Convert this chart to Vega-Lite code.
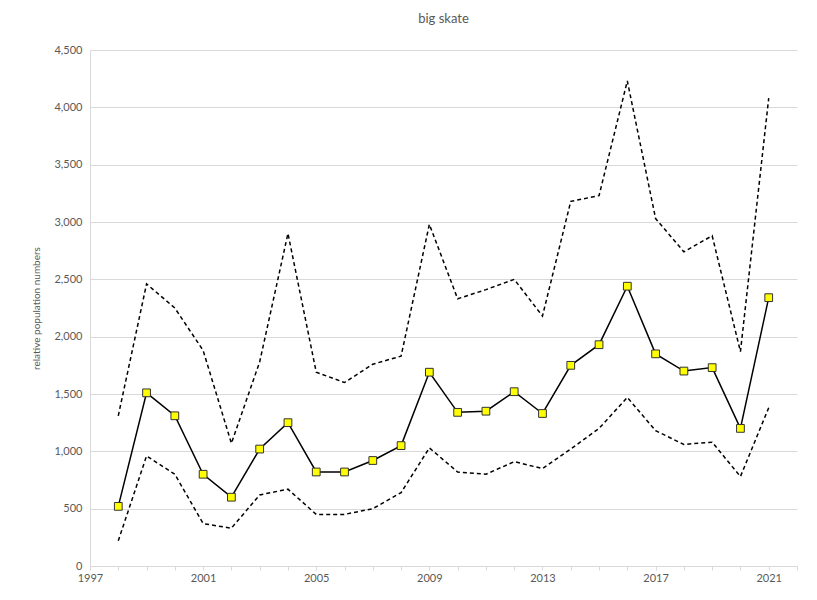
{
  "$schema": "https://vega.github.io/schema/vega-lite/v6.json",
  "autosize": "none",
  "width": 707,
  "height": 516,
  "padding": {"left": 90, "top": 50, "right": 20, "bottom": 34},
  "background": "white",
  "title": {
    "text": "big skate",
    "fontSize": 13,
    "fontWeight": "normal",
    "color": "#595959",
    "font": "Lato",
    "offset": 18
  },
  "data": {
    "values": [
      {"year": 1998, "mean": 520, "upper": 1310, "lower": 220},
      {"year": 1999, "mean": 1510, "upper": 2460, "lower": 960},
      {"year": 2000, "mean": 1310, "upper": 2250, "lower": 800},
      {"year": 2001, "mean": 800, "upper": 1880, "lower": 370},
      {"year": 2002, "mean": 600, "upper": 1070, "lower": 330},
      {"year": 2003, "mean": 1020, "upper": 1780, "lower": 620},
      {"year": 2004, "mean": 1250, "upper": 2900, "lower": 670},
      {"year": 2005, "mean": 820, "upper": 1690, "lower": 450},
      {"year": 2006, "mean": 820, "upper": 1600, "lower": 450},
      {"year": 2007, "mean": 920, "upper": 1760, "lower": 500},
      {"year": 2008, "mean": 1050, "upper": 1830, "lower": 640},
      {"year": 2009, "mean": 1690, "upper": 2980, "lower": 1030},
      {"year": 2010, "mean": 1340, "upper": 2330, "lower": 820},
      {"year": 2011, "mean": 1350, "upper": 2410, "lower": 800},
      {"year": 2012, "mean": 1520, "upper": 2500, "lower": 910},
      {"year": 2013, "mean": 1330, "upper": 2180, "lower": 850},
      {"year": 2014, "mean": 1750, "upper": 3180, "lower": 1020},
      {"year": 2015, "mean": 1930, "upper": 3230, "lower": 1200},
      {"year": 2016, "mean": 2440, "upper": 4230, "lower": 1470},
      {"year": 2017, "mean": 1850, "upper": 3030, "lower": 1180},
      {"year": 2018, "mean": 1700, "upper": 2740, "lower": 1060},
      {"year": 2019, "mean": 1730, "upper": 2880, "lower": 1080},
      {"year": 2020, "mean": 1200, "upper": 1870, "lower": 780},
      {"year": 2021, "mean": 2340, "upper": 4080, "lower": 1380}
    ]
  },
  "encoding": {
    "x": {
      "field": "year",
      "type": "quantitative",
      "title": null,
      "scale": {"domain": [1997, 2022], "nice": false, "zero": false},
      "axis": {
        "values": [1997, 1998, 1999, 2000, 2001, 2002, 2003, 2004, 2005, 2006, 2007, 2008, 2009, 2010, 2011, 2012, 2013, 2014, 2015, 2016, 2017, 2018, 2019, 2020, 2021, 2022],
        "labelExpr": "(datum.value - 1997) % 4 == 0 && datum.value < 2022 ? datum.value : ''",
        "labelFlush": false,
        "grid": false,
        "domainColor": "#d9d9d9",
        "tickColor": "#d9d9d9",
        "tickSize": 4,
        "labelColor": "#595959",
        "labelFontSize": 11,
        "labelFont": "Lato",
        "labelPadding": 2
      }
    }
  },
  "layer": [
    {
      "transform": [{"fold": ["upper", "lower"], "as": ["bound", "value"]}],
      "mark": {"type": "line", "color": "black", "strokeWidth": 1.5, "strokeDash": [4, 3]},
      "encoding": {
        "y": {
          "field": "value",
          "type": "quantitative",
          "title": "relative population numbers",
          "scale": {"domain": [0, 4500], "nice": false},
          "axis": {
            "values": [0, 500, 1000, 1500, 2000, 2500, 3000, 3500, 4000, 4500],
            "format": ",.0f",
            "gridColor": "#d9d9d9",
            "domainColor": "#d9d9d9",
            "ticks": false,
            "labelColor": "#595959",
            "labelFontSize": 11,
            "labelFont": "Lato",
            "labelPadding": 8,
            "titleColor": "#595959",
            "titleFontSize": 10,
            "titleFont": "Lato",
            "titleFontWeight": "normal",
            "titlePadding": 12
          }
        },
        "detail": {"field": "bound"}
      }
    },
    {
      "mark": {
        "type": "line",
        "color": "black",
        "strokeWidth": 1.5,
        "point": {"shape": "square", "filled": true, "fill": "#ffff00", "stroke": "#333333", "strokeWidth": 1, "size": 60}
      },
      "encoding": {
        "y": {"field": "mean", "type": "quantitative"}
      }
    }
  ],
  "config": {"view": {"stroke": null}}
}
